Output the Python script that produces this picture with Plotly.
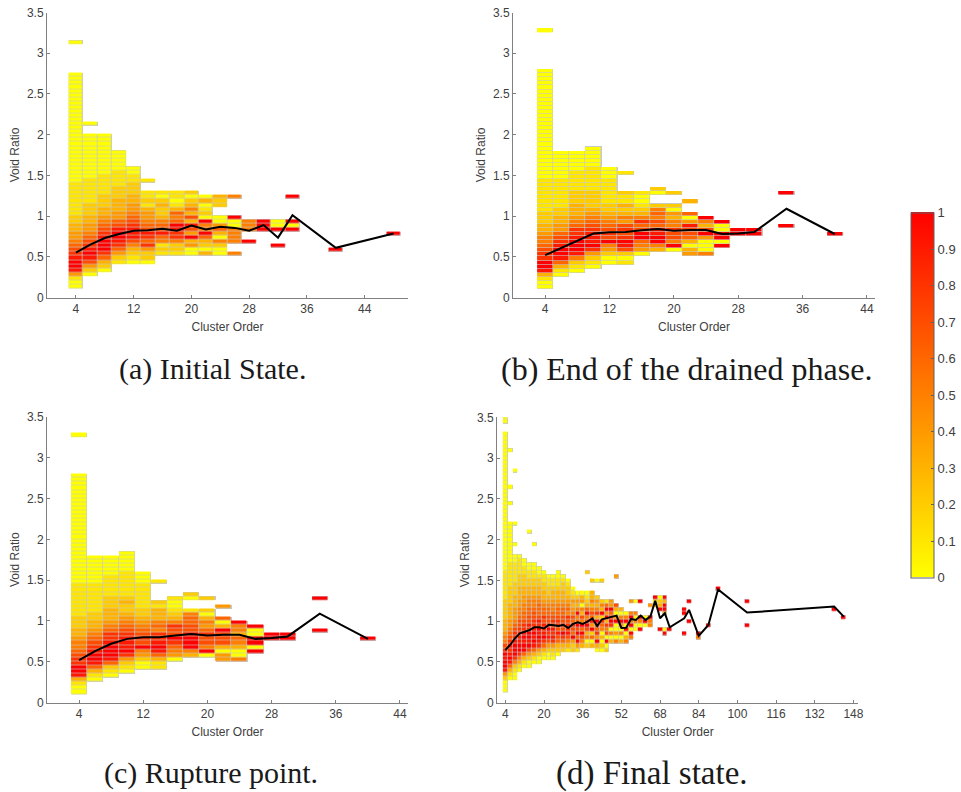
import numpy as np
import plotly.graph_objects as go

# Colour levels per column, bottom bin upward: digit = value x 10, R = 1, "." = empty bin
A_X = [4, 6, 8, 10, 12, 14, 16, 18, 20, 22, 24, 26, 28, 30, 32, 34, 40, 48]
A_START = [0, 3, 4, 6, 6, 6, 8, 8, 8, 8, 8, 8, 11, 14, 10, 14, 9, 13]
A_LEVELS = [
    "00149RR987 6544332211 1111110000 0000000000 0000000000 000 ....... 0",
    "02479R9876 5443322211 1111000000 00000 .. 0",
    "02368RRR98 7654332221 1111000000 0000",
    "12468 9RR97 6443332221 11100000",
    "01235799 98 7654433222 1100",
    "0224868976 54431211 .. 1",
    "1215697653 223201",
    "1225889R65 631011",
    "0043R47937 353202",
    "30236R55R0 21030",
    "0025036400 ..223",
    "5..5555 00R ....5",
    "R..555",
    "RRR",
    "R...R00",
    "R0R.....R",
    "R",
    "R",
]
A_LINE_X = [4, 6, 8, 10, 12, 14, 16, 18, 20, 22, 24, 26, 28, 30, 32, 34, 40, 48]
A_LINE_Y = [.55, .65, .73, .78, .82, .825, .845, .82, .885, .835, .87, .855, .82, .89, .735, 1.01, .61, .785]
A_TICKS = [4, 12, 20, 28, 36, 44]

B_X = [4, 6, 8, 10, 12, 14, 16, 18, 20, 22, 24, 26, 28, 30, 34, 40]
B_START = [0, 3, 4, 5, 6, 6, 8, 9, 9, 8, 8, 10, 13, 13, 15, 13]
B_LEVELS = [
    "00139RR887 6554332221 1111111000 0000000000 0000000000 0000 ......... 0",
    "01369RR987 6443322111 1111000000 0",
    "01259RRR98 8654333222 1111100000",
    "01248R9998 7654322221 1111100000",
    "00245R7876 5432211111 1000",
    "1027 9R87874 5323112 .... 1",
    "0456RR7685 321001",
    "35RR996756 52..02",
    "0R57785534 02..2",
    "4303677940 6..3",
    "5000 4R7 35R",
    "R0RR00R",
    "RR",
    "RR",
    "R.......R",
    "R",
]
B_LINE_X = [4, 6, 8, 10, 12, 14, 16, 18, 20, 22, 24, 26, 28, 30, 34, 40]
B_LINE_Y = [.52, .61, .70, .785, .80, .805, .825, .84, .82, .83, .83, .78, .785, .805, 1.09, .78]
B_TICKS = [4, 12, 20, 28, 36, 44]

C_X = [4, 6, 8, 10, 12, 14, 16, 18, 20, 22, 24, 26, 28, 30, 34, 40]
C_START = [0, 3, 4, 5, 6, 6, 8, 9, 9, 8, 8, 10, 13, 13, 15, 13]
C_LEVELS = [
    "00139RR887 6554332221 1111111000 0000000000 0000000000 0000 ......... 0",
    "01369RR987 6543322111 1111000000 0",
    "01269RRR98 8654333222 1111100000",
    "01248R9998 7654322321 1111100000",
    "00245R7876 5432211111 1000",
    "1136 9R9885 6533312 .... 1",
    "0456 8R7785 321001",
    "35RRR97766 51..02",
    "0R57786453 02..2",
    "440377 7R30 6..4",
    "5003 5635 5R",
    "R0RR00R",
    "RR",
    "RR",
    "R.......R",
    "R",
]
C_LINE_X = [4, 6, 8, 10, 12, 14, 16, 18, 20, 22, 24, 26, 28, 30, 34, 40]
C_LINE_Y = [.52, .63, .72, .78, .80, .80, .82, .84, .82, .83, .83, .78, .79, .81, 1.09, .78]
C_TICKS = [4, 12, 20, 28, 36, 44]

D_X = [4, 6, 8, 10, 12, 14, 16, 18, 20, 22, 24, 26, 28, 30, 32, 34, 36, 38, 40, 42, 44, 46, 48, 50,
       52, 54, 56, 58, 60, 62, 64, 66, 68, 70, 72, 78, 80, 84, 88, 92, 104, 140, 144]
D_START = [0, 3, 3, 5, 6, 6, 7, 7, 8, 8, 8, 9, 10, 10, 10, 10, 11, 11, 11, 10, 10, 10, 12, 12,
           12, 12, 13, 15, 15, 16, 16, 21, 15, 14, 15, 14, 17, 13, 16, 25, 16, 20, 18]
D_LEVELS = [
    "00024 9RR9R 87554 33322 22211 11111 00000 00000 00000 00000 00000 00000 0000 .. 00",
    "01369 R9898 76544 33332 22211 11110 00000 0000 .... 0 ... 0 ........ 0",
    "00125 8RRR9 88765 44433 32221 11110 0 ..0 .... 0 ............ 0",
    "01358 RR998 87765 54433 32221 1110",
    "01 36R R9R98 87665 54433 22211 00",
    "00247 R9RR8 97766 55433 22110 0 ....... 0",
    "01369 R9R98 87765 54332 21100 .... 0",
    "00248 9R9R8 97666 54332 2100",
    "01368 R9897 86654 33221 10",
    "00247 98R87 76654 32211 0",
    "01248 98978 76554 33211 0",
    "02367 97887 66543 32110 0",
    "23 68R 78776 65433 22 10",
    "13579 88785 65432 210",
    "224R6 78675 43421 0",
    "14R6R 7R65R 53420",
    "3 57R6 R5735 0430",
    "205 37R75 R6321 0 .... 2",
    "306 2R496 75353 3 .. 2",
    "03R48 67R38 5342 ... 0",
    "02030 5682R 352 .... 2",
    "20R07 583R4 R61",
    "30508 R76R4 4",
    "50400 R4037 ...... 4",
    "30504 R5 03",
    "530R0 R50",
    "5R0R5 R5 ..4",
    "00505 ..0",
    "R05R ...R",
    "0R0",
    "55R ..4",
    "21R",
    "R....R320",
    "R0...2 RR3R",
    "R",
    "R....RR",
    "R....R",
    "5R",
    "R",
    "R",
    "R.....R",
    "R",
    "R",
]
D_LINE_X = [4, 6, 8, 10, 12, 14, 16, 18, 20, 22, 24, 26, 28, 30, 32, 34, 36, 38, 40, 42, 44, 46, 48, 50,
            52, 54, 56, 58, 60, 62, 64, 66, 68, 70, 72, 78, 80, 84, 88, 92, 104, 140, 144]
D_LINE_Y = [.647, .708, .79, .85, .87, .89, .925, .925, .91, .955, .95, .94, .955, .917, .966, .987, .966, .995,
            1.035, .94, 1.023, 1.04, 1.048, 1.068, .917, .92, 1.027, 1.015, 1.068, 1.015, 1.056, 1.25, 1.035,
            1.097, .925, 1.035, 1.138, .82, .954, 1.39, 1.105, 1.18, 1.056]
D_TICKS = [4, 20, 36, 52, 68, 84, 100, 116, 132, 148]

Y_TICKS = [0, 0.5, 1, 1.5, 2, 2.5, 3, 3.5]
Y_TICK_TEXT = ["0", "0.5", "1", "1.5", "2", "2.5", "3", "3.5"]
CAPTIONS = ["(a) Initial State.", "(b) End of the drained phase.", "(c) Rupture point.", "(d) Final state."]
CAPTION_SIZES = [30, 32, 30, 33]
CBAR_TICKS = [0, .1, .2, .3, .4, .5, .6, .7, .8, .9, 1]


def grid(xs, starts, levels, xmax, nrows):
    ncols = (xmax - 4) // 2 + 1
    z = np.full((nrows, ncols), np.nan)
    for x, s, lv in zip(xs, starts, levels):
        chars = lv.replace(" ", "")
        for i, c in enumerate(chars):
            if c != ".":
                z[s + i, (x - 4) // 2] = 1.0 if c == "R" else int(c) / 10
    return z


W, H = 961, 792
fig = go.Figure()
panels = [
    dict(d=(A_X, A_START, A_LEVELS, 48), line=(A_LINE_X, A_LINE_Y), ticks=A_TICKS, xr=[0, 50], y0=.11,
         px=(47, 408), py=(12.5, 297.5), cap=(212, 369)),
    dict(d=(B_X, B_START, B_LEVELS, 40), line=(B_LINE_X, B_LINE_Y), ticks=B_TICKS, xr=[0, 45], y0=.105,
         px=(513, 875), py=(12.5, 297.5), cap=(686, 369)),
    dict(d=(C_X, C_START, C_LEVELS, 40), line=(C_LINE_X, C_LINE_Y), ticks=C_TICKS, xr=[0, 45], y0=.105,
         px=(47, 408), py=(417, 702.5), cap=(211, 773)),
    dict(d=(D_X, D_START, D_LEVELS, 144), line=(D_LINE_X, D_LINE_Y), ticks=D_TICKS, xr=[0.56, 150], y0=.12,
         px=(497, 858.3), py=(417.3, 702.7), cap=(652, 773)),
]

AX_COL = "#808080"
TXT_COL = "#404040"
layout = {}
for n, p in enumerate(panels, start=1):
    xa, ya = f"x{n}", f"y{n}"
    z = grid(*p["d"], nrows=70)
    base = dict(x0=4, dx=2, y0=p["y0"] + .025, dy=.05, xaxis=xa, yaxis=ya, hoverinfo="skip")
    fig.add_trace(go.Heatmap(z=np.where(np.isnan(z), np.nan, 1.0),
                             colorscale=[[0, "#c8c8c8"], [1, "#c8c8c8"]], zmin=0, zmax=1,
                             showscale=False, **base))
    fig.add_trace(go.Heatmap(z=z, coloraxis="coloraxis", xgap=.7, ygap=.6, **base))
    fig.add_trace(go.Scatter(x=p["line"][0], y=p["line"][1], mode="lines", xaxis=xa, yaxis=ya,
                             line=dict(color="black", width=2), hoverinfo="skip", showlegend=False))
    common = dict(showgrid=False, zeroline=False, showline=True, linecolor=AX_COL, linewidth=1,
                  ticks="inside", ticklen=3, tickcolor=AX_COL, tickwidth=1, automargin=False,
                  tickfont=dict(family="Liberation Sans", size=12, color=TXT_COL), mirror=False)
    layout[f"xaxis{n}"] = dict(common, domain=[p["px"][0] / W, p["px"][1] / W], range=p["xr"], anchor=ya,
                               tickmode="array", tickvals=p["ticks"], ticktext=[str(t) for t in p["ticks"]],
                               title=dict(text="Cluster Order", standoff=7,
                                          font=dict(family="Liberation Sans", size=12, color=TXT_COL)))
    layout[f"yaxis{n}"] = dict(common, domain=[1 - p["py"][1] / H, 1 - p["py"][0] / H], range=[0, 3.5], anchor=xa,
                               tickmode="array", tickvals=Y_TICKS, ticktext=Y_TICK_TEXT,
                               title=dict(text="Void Ratio", standoff=4,
                                          font=dict(family="Liberation Sans", size=12, color=TXT_COL)))

annotations = [
    dict(text=c, x=p["cap"][0] / W, y=1 - p["cap"][1] / H, xref="paper", yref="paper", showarrow=False,
         xanchor="center", yanchor="middle",
         font=dict(family="Liberation Serif", size=s, color="#1a1a1a"))
    for c, s, p in zip(CAPTIONS, CAPTION_SIZES, panels)
]

fig.update_layout(
    width=W, height=H, margin=dict(l=0, r=0, t=0, b=0, autoexpand=False),
    paper_bgcolor="white", plot_bgcolor="white",
    showlegend=False, annotations=annotations,
    coloraxis=dict(
        cmin=0, cmax=1, colorscale=[[0, "#ffff00"], [1, "#ff0000"]],
        colorbar=dict(x=910.7 / W, xanchor="left", y=1 - 395 / H, yanchor="middle",
                      len=365.4 / H, lenmode="fraction", thickness=22.6, thicknessmode="pixels",
                      xpad=0, ypad=0, outlinecolor="#606060", outlinewidth=1,
                      tickmode="array", tickvals=CBAR_TICKS,
                      ticktext=["0", "0.1", "0.2", "0.3", "0.4", "0.5", "0.6", "0.7", "0.8", "0.9", "1"],
                      ticks="inside", ticklen=3, tickcolor="#606060",
                      tickfont=dict(family="Liberation Sans", size=13, color=TXT_COL))),
    **layout,
)
fig.write_html("out.html", config={"displayModeBar": False},
               post_script="document.body.style.margin='0';document.documentElement.style.overflow='hidden';")
